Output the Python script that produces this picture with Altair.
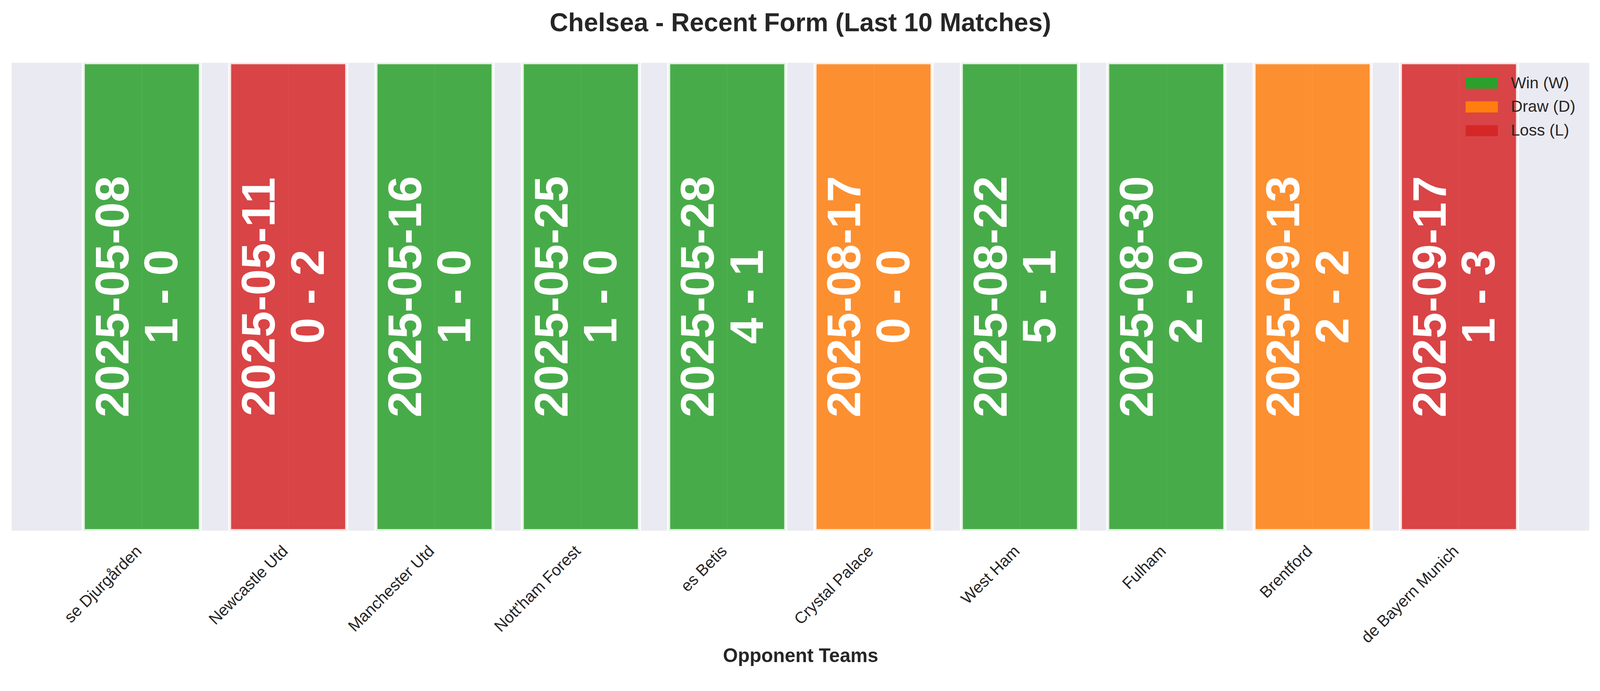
import json
import altair as alt
import pandas as pd

# ---- data ----
dates = ["2025-05-08", "2025-05-11", "2025-05-16", "2025-05-25", "2025-05-28",
         "2025-08-17", "2025-08-22", "2025-08-30", "2025-09-13", "2025-09-17"]
scores = ["1 - 0", "0 - 2", "1 - 0", "1 - 0", "4 - 1",
          "0 - 0", "5 - 1", "2 - 0", "2 - 2", "1 - 3"]
results = ["W", "L", "W", "W", "W", "D", "W", "W", "D", "L"]
opponents = ["se Djurgården", "Newcastle Utd", "Manchester Utd", "Nott'ham Forest",
             "es Betis", "Crystal Palace", "West Ham", "Fulham", "Brentford",
             "de Bayern Munich"]

result_names = {"W": "Win (W)", "D": "Draw (D)", "L": "Loss (L)"}
legend_order = ["Win (W)", "Draw (D)", "Loss (L)"]
legend_colors = ["#2ca02c", "#ff7f0e", "#d62728"]

df = pd.DataFrame({
    "idx": list(range(len(dates))),
    "date": dates,
    "score": scores,
    "outcome": [result_names[r] for r in results],
    "opponent": opponents,
})

FONT = "Liberation Sans"
INK = "#262626"
W, H = 4110, 1219

label_expr = json.dumps(opponents, ensure_ascii=False) + "[datum.value]"

x_scale = alt.Scale(domain=[-0.89, 9.89], nice=False, zero=False)
y_scale = alt.Scale(domain=[0, 1], nice=False, zero=False)

x_axis = alt.Axis(
    values=list(range(len(dates))),
    labelExpr=label_expr,
    labelAngle=315,
    labelAlign="right",
    labelBaseline="top",
    labelPadding=32,
    labelOffset=-22,
    labelLimit=1000,
    labelFont=FONT,
    labelFontSize=42,
    labelColor=INK,
    ticks=False,
    domain=False,
    grid=True,
    gridColor="white",
    gridWidth=4,
    gridOpacity=1,
    title="Opponent Teams",
    titleFont=FONT,
    titleFontSize=50,
    titleFontWeight="bold",
    titleColor=INK,
    titleBaseline="alphabetic",
    titleAlign="center",
    titleX=W / 2,
    titleY=342,
)

base = alt.Chart(df).transform_calculate(
    x0="datum.idx - 0.4",
    x1="datum.idx + 0.4",
    y0="0",
    y1="1",
    ymid="0.5",
    label="datum.date + '\\n' + datum.score",
)

bars = base.mark_bar(
    fillOpacity=0.85, stroke="white", strokeWidth=8, strokeOpacity=0.85, clip=True
).encode(
    x=alt.X("x0:Q", scale=x_scale, axis=x_axis),
    x2="x1:Q",
    y=alt.Y("y0:Q", scale=y_scale, axis=None),
    y2="y1:Q",
    color=alt.Color(
        "outcome:N",
        scale=alt.Scale(domain=legend_order, range=legend_colors),
        legend=alt.Legend(
            title=None,
            orient="none",
            legendX=3800,
            legendY=23,
            symbolType="M-1.4,-0.483H1.4V0.483H-1.4Z",
            symbolSize=3600,
            symbolOpacity=1,
            symbolStrokeWidth=0,
            labelFont=FONT,
            labelFontSize=42,
            labelColor=INK,
            labelOffset=46,
            labelLimit=600,
            rowPadding=11,
            padding=0,
        ),
    ),
)

texts = base.mark_text(
    angle=270,
    align="center",
    baseline="middle",
    font=FONT,
    fontSize=123,
    fontWeight="bold",
    color="white",
    lineBreak="\n",
    lineHeight=128,
    dy=-72,
).encode(
    x=alt.X("idx:Q", scale=x_scale, axis=x_axis),
    y=alt.Y("ymid:Q", scale=y_scale, axis=None),
    text="label:N",
)

chart = alt.layer(bars, texts).properties(
    width=W,
    height=H,
    autosize=alt.AutoSizeParams(type="none"),
    padding={"left": 22, "top": 140, "right": 20, "bottom": 385},
    background="white",
    title=alt.TitleParams(
        "Chelsea - Recent Form (Last 10 Matches)",
        font=FONT,
        fontSize=67,
        fontWeight="bold",
        color=INK,
        anchor="middle",
        baseline="alphabetic",
        offset=15,
    ),
).configure_view(fill="#EAEAF2", strokeWidth=0)

chart.save("out.html", embed_options={"renderer": "svg", "actions": False})
